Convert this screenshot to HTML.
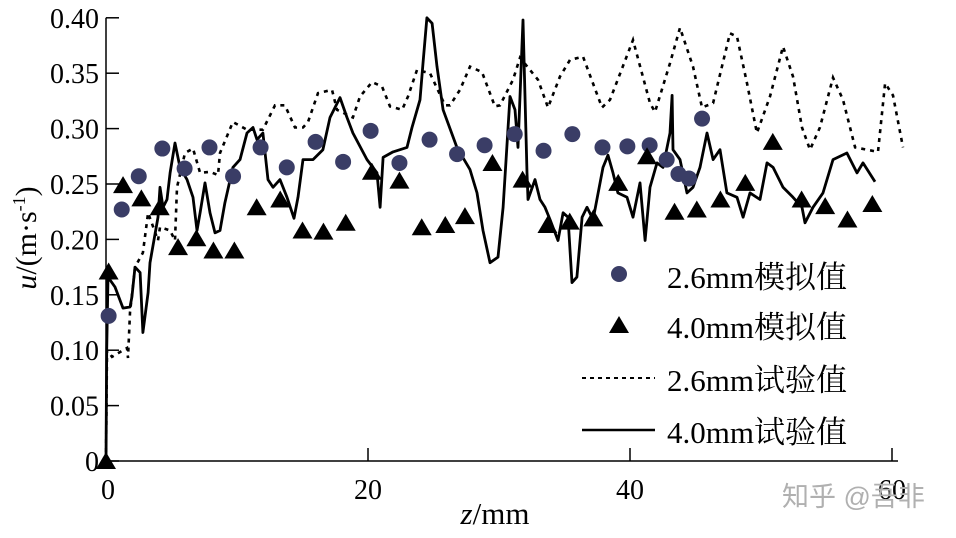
<!DOCTYPE html>
<html><head><meta charset="utf-8"><style>
body{margin:0;background:#fff;}
svg{display:block;font-family:"Liberation Serif","Noto Serif CJK SC",serif;}
</style></head><body>
<svg id="chart" width="956" height="538" viewBox="0 0 956 538">
<g id="axes"></g>
<g id="plot"></g>
<g id="legend">
  <circle cx="619" cy="274" r="8" fill="#3a3d66"/>
  <text x="667" y="288" font-size="31">2.6mm模拟值</text>
  <polygon points="619,316 629,333 609,333" fill="#000"/>
  <text x="667" y="338" font-size="31">4.0mm模拟值</text>
  <line x1="582" y1="378" x2="655" y2="378" stroke="#000" stroke-width="2" stroke-dasharray="4,4"/>
  <text x="667" y="391" font-size="31">2.6mm试验值</text>
  <line x1="582" y1="430" x2="655" y2="430" stroke="#000" stroke-width="2.5"/>
  <text x="667" y="443" font-size="31">4.0mm试验值</text>
</g>
<text x="782" y="506" font-size="27" fill="#b0b0b0" font-family="Liberation Sans,Noto Sans CJK SC,sans-serif">知乎 @吾非</text>
</svg>
<script>
const xTicks=[0,20,40,60];
const yTicks=[0,0.05,0.10,0.15,0.20,0.25,0.30,0.35,0.40];
const yTickLabels=["0","0.05","0.10","0.15","0.20","0.25","0.30","0.35","0.40"];
const sim26Z=[0.2,1.2,2.5,4.3,6.0,7.9,9.7,11.8,13.8,16.0,18.1,20.2,22.4,24.7,26.8,28.9,31.2,33.4,35.6,37.9,39.8,41.5,42.8,43.7,44.5,45.5];
const sim26U=[0.131,0.227,0.257,0.282,0.264,0.283,0.257,0.283,0.265,0.288,0.270,0.298,0.269,0.290,0.277,0.285,0.295,0.280,0.295,0.283,0.284,0.285,0.272,0.259,0.255,0.309];
const sim40Z=[0,0.2,1.3,2.7,4.1,5.5,6.9,8.2,9.8,11.5,13.3,15.0,16.6,18.3,20.3,22.4,24.1,25.9,27.4,29.5,31.8,33.7,35.4,37.2,39.1,41.3,43.4,45.1,46.9,48.8,50.9,53.1,54.9,56.6,58.5];
const sim40U=[0,0.171,0.249,0.237,0.229,0.193,0.201,0.190,0.190,0.229,0.236,0.208,0.207,0.215,0.261,0.253,0.211,0.213,0.221,0.269,0.254,0.213,0.216,0.219,0.251,0.275,0.225,0.227,0.236,0.251,0.288,0.236,0.230,0.218,0.232];
const exp26Z=[0,0.08,0.46,1.60,1.68,1.83,2.21,2.82,3.21,3.97,4.12,4.89,5.27,5.42,6.03,6.64,7.18,7.94,8.55,8.70,9.69,10.76,11.98,12.90,13.66,14.43,15.04,15.42,16.18,17.25,17.63,18.85,19.39,20.31,21.07,21.68,22.60,23.05,23.74,24.73,25.88,26.26,27.02,27.79,28.70,29.69,30.08,31.07,31.60,32.98,33.74,34.66,35.42,36.41,37.86,38.47,40.23,41.53,41.91,43.05,43.82,44.81,45.50,46.34,47.63,48.17,48.93,49.69,50.69,51.68,52.44,53.13,53.74,54.50,55.50,56.26,57.18,58.09,58.93,59.47,60.08,60.84];
const exp26U=[0,0.100,0.094,0.102,0.093,0.134,0.175,0.188,0.224,0.199,0.211,0.208,0.199,0.247,0.278,0.282,0.260,0.261,0.258,0.278,0.306,0.299,0.299,0.321,0.321,0.301,0.301,0.306,0.332,0.335,0.317,0.310,0.329,0.342,0.338,0.320,0.317,0.329,0.353,0.350,0.321,0.321,0.335,0.356,0.351,0.320,0.321,0.344,0.364,0.344,0.319,0.347,0.362,0.365,0.319,0.326,0.380,0.323,0.315,0.359,0.391,0.356,0.319,0.323,0.386,0.383,0.341,0.296,0.329,0.374,0.347,0.301,0.281,0.301,0.346,0.326,0.283,0.281,0.279,0.341,0.330,0.283];
const exp40Z=[0,0.05,0.15,0.69,1.30,1.83,1.98,2.21,2.60,2.82,3.21,3.36,3.97,4.12,4.35,4.66,4.89,5.27,5.65,6.18,6.64,6.95,7.18,7.56,7.94,8.32,8.70,9.08,9.69,10.23,10.76,11.22,11.53,11.98,12.37,12.75,13.28,13.82,14.35,14.66,15.04,15.80,16.56,17.10,17.86,18.40,18.85,19.92,20.69,20.92,21.15,21.91,22.98,23.36,23.97,24.20,24.50,24.89,25.27,25.73,26.79,27.79,28.32,28.78,29.31,29.92,30.31,30.84,31.22,31.45,31.83,32.14,32.21,32.75,33.13,33.51,33.89,34.50,34.89,35.27,35.57,35.95,36.34,36.72,37.18,37.94,38.32,38.70,39.08,39.77,40.23,40.76,41.15,41.53,42.06,42.52,43.05,43.21,43.28,43.82,44.35,44.81,45.34,45.88,46.34,46.87,47.40,48.17,48.63,49.16,49.92,50.46,50.92,51.68,52.44,53.13,53.36,53.97,54.73,55.50,56.56,57.33,57.79,58.70];
const exp40U=[0,0.100,0.166,0.157,0.138,0.139,0.148,0.175,0.170,0.116,0.152,0.179,0.220,0.247,0.229,0.236,0.260,0.287,0.265,0.254,0.238,0.208,0.224,0.251,0.224,0.206,0.208,0.233,0.265,0.272,0.296,0.301,0.290,0.296,0.254,0.247,0.254,0.238,0.219,0.238,0.272,0.272,0.281,0.310,0.328,0.310,0.296,0.272,0.260,0.229,0.274,0.279,0.283,0.301,0.326,0.359,0.400,0.395,0.356,0.317,0.283,0.263,0.242,0.208,0.179,0.184,0.229,0.329,0.317,0.283,0.398,0.260,0.236,0.254,0.236,0.229,0.218,0.199,0.224,0.220,0.161,0.166,0.220,0.229,0.218,0.265,0.276,0.260,0.242,0.238,0.220,0.251,0.199,0.247,0.269,0.265,0.296,0.330,0.281,0.272,0.242,0.247,0.265,0.296,0.272,0.281,0.242,0.238,0.220,0.242,0.236,0.269,0.265,0.247,0.238,0.229,0.215,0.229,0.242,0.272,0.278,0.260,0.269,0.252];

const NS="http://www.w3.org/2000/svg";
const X0=106,XS=13.1,Y0=461,YS=1108;
const sx=z=>X0+z*XS, sy=u=>Y0-u*YS;
function mk(tag,attrs,parent){const e=document.createElementNS(NS,tag);for(const k in attrs)e.setAttribute(k,attrs[k]);parent.appendChild(e);return e;}
const axes=document.getElementById('axes'), plot=document.getElementById('plot');

let e=mk('line',{x1:X0,y1:Y0,x2:898,y2:Y0,stroke:'#000','stroke-width':1.5},axes);


e=mk('line',{x1:X0,y1:Y0,x2:X0,y2:sy(0.4),stroke:'#000','stroke-width':1.5},axes);


yTicks.forEach((v,i)=>{
  const t=mk('line',{x1:X0,y1:sy(v),x2:X0+13,y2:sy(v),stroke:'#000','stroke-width':1.5},axes);
  
  
  const l=mk('text',{x:99,y:sy(v)+10,'text-anchor':'end','font-size':28},axes);
  l.textContent=yTickLabels[i];
  
  
});
xTicks.forEach(v=>{
  const t=mk('line',{x1:sx(v),y1:Y0,x2:sx(v),y2:Y0-13,stroke:'#000','stroke-width':1.5},axes);
  
  
  const l=mk('text',{x:sx(v)+(v===0?2:0),y:499,'text-anchor':'middle','font-size':28},axes);
  l.textContent=String(v);
  
  
});
e=mk('text',{x:495,y:524,'text-anchor':'middle','font-size':31},axes);
e.innerHTML='<tspan font-style="italic">z</tspan>/mm';


e=mk('text',{x:0,y:0,'text-anchor':'middle','font-size':30,transform:'translate(36,238) rotate(-90)'},axes);
e.innerHTML='<tspan font-style="italic">u</tspan>/(m·s<tspan font-size="18" dy="-11">-1</tspan><tspan dy="11">)</tspan>';



function pathOf(zs,us){return zs.map((z,i)=>(i?'L':'M')+sx(z).toFixed(1)+','+sy(us[i]).toFixed(1)).join('');}
e=mk('path',{d:pathOf(exp26Z,exp26U),fill:'none',stroke:'#000','stroke-width':2.6,'stroke-dasharray':'4,5'},plot);


e=mk('path',{d:pathOf(exp40Z,exp40U),fill:'none',stroke:'#000','stroke-width':2.8,'stroke-linejoin':'round'},plot);


sim26Z.forEach((z,i)=>{
  const c=mk('circle',{cx:sx(z),cy:sy(sim26U[i]),r:8,fill:'#3a3d66'},plot);
  
  
});
sim40Z.forEach((z,i)=>{
  const x=sx(z),y=sy(sim40U[i]);
  const p=mk('polygon',{points:`${x},${y-9} ${x+10},${y+8} ${x-10},${y+8}`,fill:'#000'},plot);
  
  
});
</script>
</body></html>
